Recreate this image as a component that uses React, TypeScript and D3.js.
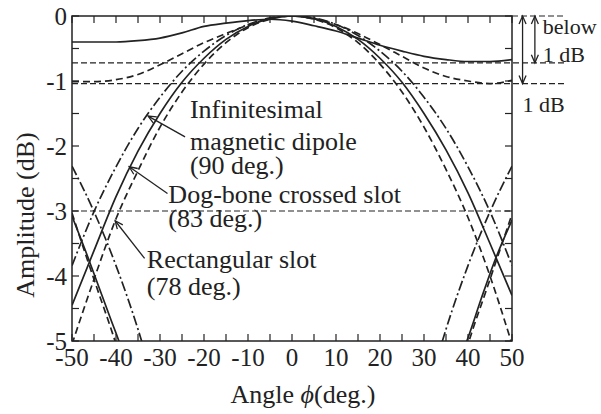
import React from 'react';
import * as d3 from 'd3';

// main beam angles (deg)
const angles = [-50, -45, -40, -35, -30, -25, -20, -15, -10, -5, 0, 5, 10, 15, 20, 25, 30, 35, 40, 45, 50];

// main beams (dB)
const dipoleMain = [-3.84, -3.01, -2.32, -1.73, -1.25, -0.85, -0.54, -0.30, -0.13, -0.03, 0, -0.03, -0.13, -0.30, -0.54, -0.85, -1.25, -1.73, -2.32, -3.01, -3.84];
const dogboneMain = [-4.45, -3.61, -2.78, -2.08, -1.50, -1.02, -0.65, -0.36, -0.16, -0.04, 0, -0.04, -0.16, -0.36, -0.65, -1.02, -1.50, -2.06, -2.72, -3.50, -4.30];
const rectMain = [-5.05, -4.05, -3.12, -2.38, -1.71, -1.17, -0.74, -0.41, -0.18, -0.05, 0, -0.05, -0.18, -0.41, -0.74, -1.17, -1.71, -2.36, -3.10, -4.00, -5.05];

// broad patterns (dB)
const broadSolid = [-0.40, -0.40, -0.40, -0.38, -0.34, -0.26, -0.16, -0.11, -0.07, -0.05, -0.08, -0.15, -0.23, -0.34, -0.45, -0.54, -0.62, -0.67, -0.70, -0.70, -0.67];
const broadDashed = [-1.01, -1.01, -0.98, -0.90, -0.75, -0.58, -0.41, -0.27, -0.14, -0.04, 0, -0.04, -0.13, -0.27, -0.44, -0.62, -0.80, -0.93, -1.00, -1.04, -0.99];

// side curves entering from the plot edges
const dipoleSideAnglesL = [-50, -45, -40, -35, -34, -33];
const dipoleSideL = [-2.31, -3.01, -3.84, -4.82, -5.04, -5.28];
const dipoleSideAnglesR = [33, 34, 35, 40, 45, 50];
const dipoleSideR = [-5.28, -5.04, -4.82, -3.84, -3.01, -2.31];

const dogboneSideAnglesL = [-50, -47, -44, -41, -39, -38];
const dogboneSideL = [-3.08, -3.60, -4.15, -4.70, -5.07, -5.30];
const dogboneSideAnglesR = [38, 40, 43, 46, 50];
const dogboneSideR = [-5.30, -4.95, -4.35, -3.78, -3.14];

const rectSideAnglesL = [-50, -47, -44, -41, -40, -39];
const rectSideL = [-3.03, -3.65, -4.25, -4.84, -5.05, -5.30];
const rectSideAnglesR = [39, 40, 41, 44, 47, 50];
const rectSideR = [-5.30, -5.05, -4.84, -4.25, -3.65, -3.05];

// horizontal reference levels (dB)
const refLevels = [-0.72, -1.04];
const halfPower = -3;

const xTickLabels = [-50, -40, -30, -20, -10, 0, 10, 20, 30, 40, 50];
const yTickLabels = [0, -1, -2, -3, -4, -5];

const W = 601, H = 414;
const SERIF = "'Liberation Serif', 'Times New Roman', serif";

const App = () => {
  const svgRef = React.useRef<SVGSVGElement>(null);

  React.useEffect(() => {
    const svg = d3.select(svgRef.current);
    svg.selectAll('*').remove();

    const x = d3.scaleLinear().domain([-50, 50]).range([72, 512]);
    const y = d3.scaleLinear().domain([-5, 0]).range([341, 16]);
    const ink = '#222';

    const defs = svg.append('defs');
    defs.append('clipPath').attr('id', 'plotClip')
      .append('rect')
      .attr('x', x(-50)).attr('y', y(0))
      .attr('width', x(50) - x(-50)).attr('height', y(-5) - y(0));
    defs.append('marker')
      .attr('id', 'head')
      .attr('viewBox', '-10 -5 12 10')
      .attr('refX', 0).attr('refY', 0)
      .attr('markerWidth', 12).attr('markerHeight', 10)
      .attr('markerUnits', 'userSpaceOnUse')
      .attr('orient', 'auto-start-reverse')
      .append('path')
      .attr('d', 'M-8,-3.5L0,0L-8,3.5')
      .attr('fill', 'none').attr('stroke', ink).attr('stroke-width', 1.3);

    // reference lines
    refLevels.forEach((lv) => {
      svg.append('line')
        .attr('x1', x(-50)).attr('x2', x(62))
        .attr('y1', y(lv)).attr('y2', y(lv))
        .attr('stroke', ink).attr('stroke-width', 1.2)
        .attr('stroke-dasharray', '6,3');
    });
    svg.append('line')
      .attr('x1', x(-50)).attr('x2', x(50))
      .attr('y1', y(halfPower)).attr('y2', y(halfPower))
      .attr('stroke', ink).attr('stroke-width', 1.2)
      .attr('stroke-dasharray', '6,3');
    svg.append('line')
      .attr('x1', x(50)).attr('x2', x(62))
      .attr('y1', y(0)).attr('y2', y(0))
      .attr('stroke', ink).attr('stroke-width', 1.2)
      .attr('stroke-dasharray', '6,3');

    // curves
    const line = d3.line<[number, number]>()
      .x((d) => x(d[0]))
      .y((d) => y(d[1]))
      .curve(d3.curveMonotoneX);

    const dashed = '7,4';
    const dashDot = '10,3,2,3';
    const series: [number[], number[], string | null][] = [
      [angles, broadSolid, null],
      [angles, broadDashed, dashed],
      [angles, dipoleMain, dashDot],
      [angles, dogboneMain, null],
      [angles, rectMain, dashed],
      [dipoleSideAnglesL, dipoleSideL, dashDot],
      [dipoleSideAnglesR, dipoleSideR, dashDot],
      [dogboneSideAnglesL, dogboneSideL, null],
      [dogboneSideAnglesR, dogboneSideR, null],
      [rectSideAnglesL, rectSideL, dashed],
      [rectSideAnglesR, rectSideR, dashed],
    ];
    const g = svg.append('g').attr('clip-path', 'url(#plotClip)');
    series.forEach(([xs, ys, dash]) => {
      g.append('path')
        .attr('d', line(xs.map((a, i) => [a, ys[i]] as [number, number])))
        .attr('fill', 'none')
        .attr('stroke', ink)
        .attr('stroke-width', 1.7)
        .attr('stroke-dasharray', dash);
    });

    // frame
    svg.append('rect')
      .attr('x', x(-50)).attr('y', y(0))
      .attr('width', x(50) - x(-50)).attr('height', y(-5) - y(0))
      .attr('fill', 'none').attr('stroke', ink).attr('stroke-width', 1.5);

    // inward ticks
    const tl = 7;
    d3.range(-50, 51, 5).forEach((a) => {
      svg.append('line').attr('x1', x(a)).attr('x2', x(a))
        .attr('y1', y(-5)).attr('y2', y(-5) - tl).attr('stroke', ink).attr('stroke-width', 1.2);
      svg.append('line').attr('x1', x(a)).attr('x2', x(a))
        .attr('y1', y(0)).attr('y2', y(0) + tl).attr('stroke', ink).attr('stroke-width', 1.2);
    });
    d3.range(-5, 0.01, 0.5).forEach((v) => {
      svg.append('line').attr('x1', x(-50)).attr('x2', x(-50) + tl)
        .attr('y1', y(v)).attr('y2', y(v)).attr('stroke', ink).attr('stroke-width', 1.2);
      svg.append('line').attr('x1', x(50)).attr('x2', x(50) - tl)
        .attr('y1', y(v)).attr('y2', y(v)).attr('stroke', ink).attr('stroke-width', 1.2);
    });

    // tick labels
    svg.append('g').selectAll('text').data(xTickLabels).enter()
      .append('text')
      .attr('x', (d) => x(d)).attr('y', 366)
      .attr('text-anchor', 'middle')
      .attr('font-family', SERIF).attr('font-size', 25).attr('fill', ink)
      .text((d) => String(d));
    svg.append('g').selectAll('text').data(yTickLabels).enter()
      .append('text')
      .attr('x', x(-50) - 5).attr('y', (d) => y(d)).attr('dy', '0.35em')
      .attr('text-anchor', 'end')
      .attr('font-family', SERIF).attr('font-size', 25).attr('fill', ink)
      .text((d) => String(d));

    // axis titles
    const xt = svg.append('text')
      .attr('x', 303).attr('y', 403)
      .attr('text-anchor', 'middle')
      .attr('font-family', SERIF).attr('font-size', 26).attr('fill', ink);
    xt.append('tspan').text('Angle ');
    xt.append('tspan').attr('font-style', 'italic').text('\u03D5');
    xt.append('tspan').text('(deg.)');

    svg.append('text')
      .attr('transform', `translate(34,${215}) rotate(-90)`)
      .attr('text-anchor', 'middle')
      .attr('font-family', SERIF).attr('font-size', 26).attr('fill', ink)
      .text('Amplitude (dB)');

    // curve annotations
    const note = (ax: number, lines: [string, number][]) => {
      lines.forEach(([t, db]) => {
        svg.append('text')
          .attr('x', x(ax)).attr('y', y(db))
          .attr('font-family', SERIF).attr('font-size', 26).attr('fill', ink)
          .text(t);
      });
    };
    note(-23.2, [['Infinitesimal', -1.57], ['magnetic dipole', -2.06], ['(90 deg.)', -2.43]]);
    note(-28.1, [['Dog-bone crossed slot', -2.88], ['(83 deg.)', -3.24]]);
    note(-33.0, [['Rectangular slot', -3.88], ['(78 deg.)', -4.29]]);

    const arrow = (a0: number, d0: number, a1: number, d1: number, both = false) => {
      const l = svg.append('line')
        .attr('x1', x(a0)).attr('y1', y(d0))
        .attr('x2', x(a1)).attr('y2', y(d1))
        .attr('stroke', ink).attr('stroke-width', 1.3)
        .attr('marker-end', 'url(#head)');
      if (both) l.attr('marker-start', 'url(#head)');
    };
    arrow(-24.3, -1.86, -32.7, -1.54);
    arrow(-28.3, -2.73, -37.0, -2.32);
    arrow(-33.5, -3.73, -40.2, -3.15);

    // "below 1 dB" markers
    arrow(52.4, 0, 52.4, refLevels[1], true);
    arrow(55.2, 0, 55.2, refLevels[0], true);
    const small = (ax: number, db: number, t: string) => {
      svg.append('text')
        .attr('x', x(ax)).attr('y', y(db))
        .attr('font-family', SERIF).attr('font-size', 22).attr('fill', ink)
        .text(t);
    };
    small(57.0, -0.27, 'below');
    small(57.0, -0.70, '1 dB');
    small(52.4, -1.47, '1 dB');
  }, []);

  return (
    <div style={{ position: 'absolute', left: 0, top: 0, background: '#fff' }}>
      <svg ref={svgRef} width={W} height={H} style={{ display: 'block' }} />
    </div>
  );
};

export default App;
